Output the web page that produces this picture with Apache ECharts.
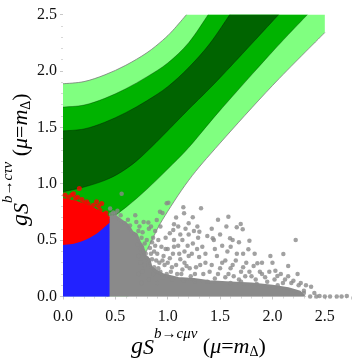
<!DOCTYPE html>
<html><head><meta charset="utf-8">
<script src="https://cdn.jsdelivr.net/npm/echarts@6/dist/echarts.min.js"></script>
<style>html,body{margin:0;padding:0;background:#fff;}#c{width:357px;height:359px;}</style>
</head><body><div id="c"></div>
<script>
// ---- contour boundaries (x, y) ----
const outerUpper = [[0,1.886],[0.2,1.905],[0.4,1.965],[0.6,2.05],[0.8,2.16],[0.95,2.27],[1.05,2.36],[1.18,2.5]];
const outerLower = [[0.62,0],[0.68,0.15],[0.76,0.33],[0.85,0.5],[0.95,0.68],[1.2,1.03],[1.5,1.36],[2.0,1.87],[2.5,2.34]];
const midUpper = [[0,1.679],[0.2,1.697],[0.4,1.757],[0.6,1.842],[0.8,1.947],[1.0,2.07],[1.2,2.25],[1.387,2.5]];
const midLower = [[0,0.55],[0.2,0.58],[0.4,0.66],[0.6,0.79],[0.8,0.95],[1.0,1.13],[1.2,1.32],[1.5,1.65],[2.0,2.17],[2.335,2.5]];
const innerUpper = [[0,1.468],[0.2,1.485],[0.4,1.545],[0.6,1.63],[0.8,1.735],[1.0,1.86],[1.2,2.03],[1.4,2.24],[1.593,2.5]];
const innerLower = [[0,0.928],[0.2,0.97],[0.4,1.03],[0.55,1.1],[0.7,1.2],[0.85,1.33],[1.0,1.47],[1.2,1.66],[1.5,1.94],[2.06,2.5]];
const plotCorner = [[0,0],[2.5,2.5]];

// ---- scan point clouds ----
const blueBase = [[0,0],[0.43,0]];
const redBlueArc = [[0,0.47],[0.1,0.48],[0.2,0.51],[0.3,0.56],[0.38,0.62],[0.43,0.66]];
const redTop = [[0.43,0.70],[0.38,0.73],[0.3,0.77],[0.2,0.81],[0.1,0.84],[0,0.86]];
const grayBlob = [[0.43,0],[0.43,0.70],[0.5,0.71],[0.56,0.67],[0.62,0.63],[0.66,0.57],[0.7,0.55],[0.73,0.48],[0.76,0.44],[0.78,0.36],[0.82,0.33],[0.84,0.26],[0.9,0.22],[0.96,0.19],[1.1,0.16],[1.25,0.15],[1.4,0.13],[1.6,0.12],[1.8,0.11],[2.0,0.09],[2.15,0.07],[2.26,0.04],[2.3,0]];
const redPoints = [[0.02,0.9],[0.083,0.899],[0.156,0.958],[0.226,0.839],[0.29,0.81],[0.32,0.84],[0.37,0.825],[0.353,0.765],[0.39,0.73],[0.40,0.69],[0.05,0.88],[0.12,0.87],[0.18,0.86],[0.26,0.79],[0.2,0.83],[0.1,0.91],[0.3,0.76],[0.42,0.7],[0.34,0.8],[0.24,0.82],[0.14,0.88],[0.41,0.74]];
const grayPoints = [
[0.45,0.78],[0.48,0.745],[0.5,0.735],[0.56,0.91],[0.59,0.65],[0.62,0.68],[0.69,0.72],[0.52,0.76],[0.46,0.73],[0.64,0.63],[0.55,0.72],
[0.72,0.58],[0.75,0.52],[0.78,0.47],[0.74,0.42],[0.79,0.38],[0.83,0.43],[0.86,0.52],[0.82,0.6],[0.88,0.58],[0.91,0.5],[0.94,0.44],[0.9,0.38],[0.85,0.33],[0.81,0.3],[0.87,0.26],[0.92,0.3],[0.96,0.36],[0.98,0.52],[0.77,0.66],[0.815,0.657],[0.895,0.678],[0.926,0.752],[0.95,0.74],[0.99,0.826],[1.006,0.832],[0.84,0.62],[0.7,0.66],[0.73,0.62],[0.76,0.57],[0.8,0.5],[0.84,0.38],[0.88,0.45],[0.93,0.62],[0.97,0.28],[0.93,0.22],[0.78,0.28],[0.74,0.3],
[0.72,0.2],[0.75,0.12],[0.82,0.15],[0.86,0.2],[0.9,0.12],[0.95,0.17],[0.98,0.42],[0.76,0.22],[0.8,0.34],[0.87,0.4],[0.91,0.25],[0.95,0.32],[0.99,0.2],[0.72,0.36],[0.71,0.46],[0.77,0.4],[0.85,0.48],[0.89,0.32],
[1.0,0.42],[1.02,0.56],[1.06,0.5],[1.1,0.45],[1.05,0.38],[1.0,0.3],[1.03,0.22],[1.08,0.28],[1.12,0.33],[1.16,0.4],[1.14,0.5],[1.2,0.55],[1.24,0.47],[1.2,0.36],[1.18,0.27],[1.13,0.2],[1.22,0.18],[1.27,0.26],[1.3,0.35],[1.33,0.44],[1.053,0.59],[1.149,0.791],[1.156,0.738],[1.239,0.702],[1.318,0.782],[1.283,0.621],[1.302,0.575],[1.1,0.62],[1.08,0.7],[1.2,0.65],[1.04,0.15],[1.15,0.14],[1.26,0.13],
[1.02,0.34],[1.06,0.44],[1.09,0.2],[1.11,0.38],[1.16,0.3],[1.19,0.45],[1.23,0.38],[1.26,0.2],[1.28,0.42],[1.31,0.28],[1.34,0.2],[1.36,0.38],[1.04,0.26],[1.14,0.24],[1.21,0.25],[1.29,0.52],[1.25,0.58],[1.12,0.55],[1.06,0.64],[1.17,0.6],
[1.378,0.536],[1.43,0.516],[1.595,0.516],[1.601,0.442],[1.579,0.707],[1.697,0.643],[1.659,0.613],[1.716,0.596],[1.78,0.495],[1.77,0.418],[1.36,0.3],[1.4,0.22],[1.45,0.16],[1.5,0.25],[1.47,0.36],[1.55,0.32],[1.58,0.2],[1.62,0.28],[1.66,0.38],[1.7,0.22],[1.75,0.3],[1.68,0.48],[1.52,0.45],[1.42,0.6],[1.38,0.13],[1.6,0.12],[1.7,0.13],
[1.42,0.28],[1.45,0.42],[1.48,0.2],[1.52,0.3],[1.55,0.17],[1.57,0.4],[1.6,0.25],[1.63,0.18],[1.65,0.32],[1.68,0.15],[1.72,0.26],[1.74,0.18],[1.78,0.22],[1.82,0.27],[1.84,0.15],[1.88,0.22],[1.44,0.5],[1.5,0.55],[1.62,0.5],[1.72,0.38],[1.83,0.38],[1.9,0.3],[1.56,0.62],[1.48,0.68],
[1.856,0.294],[2.028,0.229],[2.047,0.181],[2.104,0.377],[2.222,0.501],[1.8,0.18],[1.9,0.2],[1.95,0.13],[2.0,0.3],[2.12,0.15],[2.18,0.12],[2.25,0.1],[1.85,0.11],[2.05,0.1],[2.369,0.087],[2.36,0.0],[2.42,0.0],[2.45,0.005],[2.614,0.0],[2.66,0.0],[2.71,0.005],[2.3,0.03],
[1.93,0.17],[1.97,0.22],[2.02,0.15],[2.08,0.2],[2.1,0.12],[2.15,0.18],[2.2,0.14],[2.24,0.2],[2.27,0.12],[2.32,0.1],[1.98,0.36],[2.15,0.27],[2.3,0.05],[2.4,0.03],[2.5,0.0],[2.55,0.0]
];

// ---- axes ----
const xTicks = [0, 0.5, 1.0, 1.5, 2.0, 2.5];
const yTicks = [0, 0.5, 1.0, 1.5, 2.0, 2.5];
const xTitle = '{g|g}{s|S}{sup|b→cμν}{n| (}{i|μ}{n|=}{i|m}{sub|Δ}{n|)}';
const yTitle = '{g|g}{s|S}{sup|b→cτν}{n| (}{i|μ}{n|=}{i|m}{sub|Δ}{n|)}';

const C_LIGHT = '#80ff80', C_MID = '#00b300', C_DARK = '#006400';
const C_GRAY = '#8a8a8a', C_BLUE = '#2222ff', C_RED = '#ff0000';
const SERIF = "'Liberation Serif', 'Times New Roman', serif";

function catmull(p) {
  let d = '';
  for (let i = 0; i < p.length - 1; i++) {
    const p0 = p[i-1] || p[i], p1 = p[i], p2 = p[i+1], p3 = p[i+2] || p[i+1];
    const c1 = [p1[0] + (p2[0]-p0[0])/6, p1[1] + (p2[1]-p0[1])/6];
    const c2 = [p2[0] - (p3[0]-p1[0])/6, p2[1] - (p3[1]-p1[1])/6];
    d += ' C' + c1[0] + ',' + c1[1] + ' ' + c2[0] + ',' + c2[1] + ' ' + p2[0] + ',' + p2[1];
  }
  return d;
}
function pathFrom(pieces, close) {
  let d = '';
  pieces.forEach((pc, k) => {
    const p = pc.pts;
    d += (k === 0 ? 'M' : ' L') + p[0][0] + ',' + p[0][1];
    if (pc.smooth) d += catmull(p);
    else for (let i = 1; i < p.length; i++) d += ' L' + p[i][0] + ',' + p[i][1];
  });
  return d + (close ? ' Z' : '');
}
function regionSeries(z, build) {
  return {
    type: 'custom', coordinateSystem: 'cartesian2d', data: [[0, 0]], z: z, silent: true, clip: true,
    renderItem: function (params, api) {
      const c = (arr) => arr.map(pt => api.coord(pt));
      return { type: 'group', children: build(c) };
    }
  };
}
function fillPath(d, fill, stroke, lw) {
  return { type: 'path', shape: { pathData: d }, style: { fill: fill, stroke: stroke || null, lineWidth: lw || 0 } };
}
function linePath(d, stroke, lw) {
  return { type: 'path', shape: { pathData: d }, style: { fill: null, stroke: stroke, lineWidth: lw } };
}

const LH = 44;
const rich = {
  g:   { fontFamily: SERIF, fontStyle: 'italic', fontSize: 24, lineHeight: LH, color: '#000' },
  s:   { fontFamily: SERIF, fontStyle: 'italic', fontSize: 22, lineHeight: LH, padding: [3, 0, 0, 0], color: '#000' },
  sup: { fontFamily: SERIF, fontStyle: 'italic', fontSize: 15, lineHeight: LH, padding: [0, 0, 26, 0], color: '#000' },
  n:   { fontFamily: SERIF, fontSize: 22, lineHeight: LH, color: '#000' },
  i:   { fontFamily: SERIF, fontStyle: 'italic', fontSize: 22, lineHeight: LH, color: '#000' },
  sub: { fontFamily: SERIF, fontSize: 14, lineHeight: LH, padding: [10, 0, 0, 0], color: '#000' }
};
function fmt(v, ticks) {
  return ticks.some(t => Math.abs(t - v) < 1e-6) ? v.toFixed(1) : '';
}
const axisCommon = {
  type: 'value', interval: 0.5,
  axisLine: { show: false }, splitLine: { show: false },
  axisTick: { show: true, length: 3, lineStyle: { color: '#c8c8c8', width: 1 } },
  minorTick: { show: true, splitNumber: 5, length: 2, lineStyle: { color: '#d8d8d8', width: 1 } }
};

const chart = echarts.init(document.getElementById('c'), null, { renderer: 'canvas' });
chart.setOption({
  animation: false,
  backgroundColor: '#fff',
  grid: { left: 63, right: 6, top: 14.5, bottom: 62.5 },
  xAxis: Object.assign({}, axisCommon, {
    min: 0, max: 2.75,
    axisLabel: { formatter: v => fmt(v, xTicks), fontFamily: SERIF, fontSize: 16, color: '#111', margin: 12 }
  }),
  yAxis: Object.assign({}, axisCommon, {
    min: 0, max: 2.5,
    axisLabel: { formatter: v => fmt(v, yTicks), fontFamily: SERIF, fontSize: 16, color: '#111', margin: 6 }
  }),
  graphic: [
    { type: 'text', x: 131, y: 347, silent: true,
      style: { text: xTitle, rich: rich, align: 'left', verticalAlign: 'middle' } },
    { type: 'text', x: 21, y: 226, rotation: Math.PI / 2, silent: true,
      style: { text: yTitle, rich: rich, align: 'left', verticalAlign: 'middle' } }
  ],
  series: [
    regionSeries(1, c => {
      const up = c(outerUpper), lo = c(outerLower).reverse();
      return [
        fillPath(pathFrom([{ pts: c([plotCorner[0]]) }, { pts: up, smooth: true }, { pts: c([plotCorner[1]]) }, { pts: lo, smooth: true }], true), C_LIGHT),
        linePath(pathFrom([{ pts: up, smooth: true }]), '#7a7a7a', 0.8),
        linePath(pathFrom([{ pts: lo, smooth: true }]), '#7a7a7a', 0.8)
      ];
    }),
    regionSeries(2, c => {
      const up = c(midUpper), lo = c(midLower).reverse();
      return [
        fillPath(pathFrom([{ pts: up, smooth: true }, { pts: lo, smooth: true }], true), C_MID),
        linePath(pathFrom([{ pts: up, smooth: true }]), 'rgba(0,40,0,0.6)', 0.6),
        linePath(pathFrom([{ pts: lo, smooth: true }]), 'rgba(0,40,0,0.6)', 0.6)
      ];
    }),
    regionSeries(3, c => {
      const up = c(innerUpper), lo = c(innerLower).reverse();
      return [
        fillPath(pathFrom([{ pts: up, smooth: true }, { pts: lo, smooth: true }], true), C_DARK),
        linePath(pathFrom([{ pts: up, smooth: true }]), 'rgba(0,30,0,0.7)', 0.6),
        linePath(pathFrom([{ pts: lo, smooth: true }]), 'rgba(0,30,0,0.7)', 0.6)
      ];
    }),
    regionSeries(4, c => [fillPath(pathFrom([{ pts: c(grayBlob) }], true), C_GRAY, C_GRAY, 3)]),
    { type: 'scatter', data: grayPoints, z: 5, symbol: 'circle', symbolSize: 4.5, silent: true, itemStyle: { color: C_GRAY } },
    regionSeries(6, c => [fillPath(pathFrom([{ pts: c(blueBase) }, { pts: c(redBlueArc).reverse(), smooth: true }], true), C_BLUE, C_BLUE, 3)]),
    regionSeries(7, c => [fillPath(pathFrom([{ pts: c(redBlueArc), smooth: true }, { pts: c(redTop), smooth: true }], true), C_RED, C_RED, 3)]),
    { type: 'scatter', data: redPoints, z: 8, symbol: 'circle', symbolSize: 5, silent: true, itemStyle: { color: C_RED } }
  ]
});
</script></body></html>
